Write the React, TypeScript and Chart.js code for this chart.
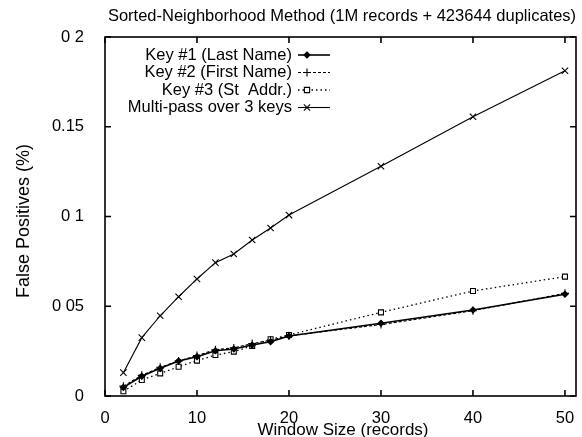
import React, { useEffect, useRef } from "react";
import { Chart, registerables } from "chart.js";

Chart.register(...registerables);

const windowSizes = [2, 4, 6, 8, 10, 12, 14, 16, 18, 20, 30, 40, 50];
const key1LastName = [0.0048, 0.011, 0.0154, 0.0195, 0.0219, 0.0252, 0.0262, 0.0284, 0.0302, 0.0334, 0.0405, 0.0479, 0.0567];
const key2FirstName = [0.0055, 0.0115, 0.016, 0.0195, 0.0225, 0.0258, 0.0268, 0.0292, 0.031, 0.0335, 0.0398, 0.0475, 0.0572];
const key3StAddr = [0.0026, 0.0089, 0.0126, 0.0163, 0.0197, 0.0228, 0.0247, 0.0279, 0.0316, 0.034, 0.0466, 0.0585, 0.0665];
const multiPass = [0.013, 0.0325, 0.0447, 0.0553, 0.0652, 0.0743, 0.0791, 0.0869, 0.0936, 0.1008, 0.128, 0.1556, 0.1812];

const xTickValues = [0, 10, 20, 30, 40, 50];
const xTickLabels = ["0", "10", "20", "30", "40", "50"];
const yTickValues = [0, 0.05, 0.1, 0.15, 0.2];
const yTickLabels = ["0", "0 05", "0 1", "0.15", "0 2"];

const seriesNames = ["Key #1 (Last Name)", "Key #2 (First Name)", "Key #3 (St  Addr.)", "Multi-pass over 3 keys"];

const titleText = "Sorted-Neighborhood Method (1M records + 423644 duplicates)";
const xTitle = "Window Size (records)";
const yTitle = "False Positives (%)";

const FONT = '"Liberation Sans", Arial, sans-serif';
const FS = 16.5;

function drawMarker(ctx: CanvasRenderingContext2D, style: string, x: number, y: number, r: number, fill: string) {
  ctx.save();
  ctx.setLineDash([]);
  ctx.strokeStyle = "#000";
  ctx.lineWidth = 1.1;
  ctx.fillStyle = fill;
  ctx.beginPath();
  if (style === "rectRot") {
    ctx.moveTo(x, y - r);
    ctx.lineTo(x + r, y);
    ctx.lineTo(x, y + r);
    ctx.lineTo(x - r, y);
    ctx.closePath();
    ctx.fill();
    ctx.stroke();
  } else if (style === "cross") {
    ctx.moveTo(x - r, y);
    ctx.lineTo(x + r, y);
    ctx.moveTo(x, y - r);
    ctx.lineTo(x, y + r);
    ctx.stroke();
  } else if (style === "rect") {
    const s = r * 0.75;
    ctx.rect(x - s, y - s, 2 * s, 2 * s);
    ctx.fill();
    ctx.stroke();
  } else {
    const s = r * 0.7;
    ctx.moveTo(x - s, y - s);
    ctx.lineTo(x + s, y + s);
    ctx.moveTo(x + s, y - s);
    ctx.lineTo(x - s, y + s);
    ctx.stroke();
  }
  ctx.restore();
}

export default function App() {
  const ref = useRef<HTMLCanvasElement>(null);

  useEffect(() => {
    document.body.style.margin = "0";
    const canvas = ref.current;
    if (!canvas) return;

    const styles = [
      { dash: [], width: 1.6, pointStyle: "rectRot", radius: 3, fill: "#000" },
      { dash: [3, 2], width: 1.1, pointStyle: "cross", radius: 4, fill: "#000" },
      { dash: [1.5, 3], width: 1.3, pointStyle: "rect", radius: 3.5, fill: "#fff" },
      { dash: [], width: 1.1, pointStyle: "crossRot", radius: 4.5, fill: "#000" },
    ];
    const values = [key1LastName, key2FirstName, key3StAddr, multiPass];

    const datasets = values.map((vals, i) => ({
      label: seriesNames[i],
      data: windowSizes.map((x, j) => ({ x, y: vals[j] })),
      borderColor: "#000",
      backgroundColor: styles[i].fill,
      borderWidth: styles[i].width,
      borderDash: styles[i].dash,
      pointStyle: styles[i].pointStyle as any,
      pointRadius: styles[i].radius,
      pointBorderWidth: 1.1,
      pointBorderColor: "#000",
      pointBackgroundColor: styles[i].fill,
      tension: 0,
    }));

    const framePlugin = {
      id: "frame",
      afterDraw(chart: any) {
        const { ctx, chartArea } = chart;
        const { left, right, top, bottom } = chartArea;
        const xs = chart.scales.x;
        const ys = chart.scales.y;
        ctx.save();
        ctx.strokeStyle = "#000";
        ctx.lineWidth = 1.6;
        ctx.setLineDash([]);
        ctx.strokeRect(left, top, right - left, bottom - top);
        const tl = 6;
        ctx.beginPath();
        xTickValues.forEach((v) => {
          const px = xs.getPixelForValue(v);
          ctx.moveTo(px, bottom);
          ctx.lineTo(px, bottom - tl);
          ctx.moveTo(px, top);
          ctx.lineTo(px, top + tl);
        });
        yTickValues.forEach((v) => {
          const py = ys.getPixelForValue(v);
          ctx.moveTo(left, py);
          ctx.lineTo(left + tl, py);
          ctx.moveTo(right, py);
          ctx.lineTo(right - tl, py);
        });
        ctx.stroke();

        // texts
        ctx.fillStyle = "#000";
        ctx.font = `${FS}px ${FONT}`;
        ctx.textAlign = "center";
        ctx.textBaseline = "middle";
        ctx.fillText(titleText, 342, 16);
        ctx.font = `17px ${FONT}`;
        ctx.fillText(xTitle, 343, 430);
        ctx.save();
        ctx.font = `18px ${FONT}`;
        ctx.translate(24, 221);
        ctx.rotate(-Math.PI / 2);
        ctx.fillText(yTitle, 0, 0);
        ctx.restore();

        // legend
        const textRight = 292;
        const sx0 = 298;
        const sx1 = 330;
        const rowY = [55, 72.5, 90, 107.5];
        ctx.font = `${FS}px ${FONT}`;
        ctx.textAlign = "right";
        ctx.textBaseline = "middle";
        seriesNames.forEach((name, i) => {
          const y = rowY[i];
          ctx.fillStyle = "#000";
          ctx.fillText(name, textRight, y);
          ctx.beginPath();
          ctx.lineWidth = styles[i].width;
          ctx.setLineDash(styles[i].dash);
          ctx.moveTo(sx0, y);
          ctx.lineTo(sx1, y);
          ctx.stroke();
          ctx.setLineDash([]);
          drawMarker(ctx, styles[i].pointStyle, 307, y, styles[i].radius, styles[i].fill);
        });
        ctx.restore();
      },
    };

    const chart = new Chart(canvas, {
      type: "line",
      data: { datasets },
      options: {
        animation: false,
        responsive: false,
        layout: { padding: { top: 37, right: 6, left: 0, bottom: 0 } },
        plugins: { legend: { display: false }, title: { display: false }, tooltip: { enabled: false } },
        scales: {
          x: {
            type: "linear",
            min: 0,
            max: 51.2,
            grid: { display: false },
            border: { display: false },
            afterBuildTicks: (scale: any) => {
              scale.ticks = xTickValues.map((v) => ({ value: v }));
            },
            afterFit: (scale: any) => {
              scale.height = 41;
            },
            ticks: {
              padding: 5,
              color: "#000",
              font: { family: FONT, size: FS },
              maxRotation: 0,
              callback: (v: any) => {
                const i = xTickValues.indexOf(Number(v));
                return i >= 0 ? xTickLabels[i] : "";
              },
            },
          },
          y: {
            type: "linear",
            min: 0,
            max: 0.2,
            grid: { display: false },
            border: { display: false },
            afterBuildTicks: (scale: any) => {
              scale.ticks = yTickValues.map((v) => ({ value: v }));
            },
            afterFit: (scale: any) => {
              scale.width = 105;
            },
            ticks: {
              padding: 13,
              color: "#000",
              font: { family: FONT, size: FS },
              callback: (v: any) => {
                const i = yTickValues.findIndex((t) => Math.abs(t - Number(v)) < 1e-9);
                return i >= 0 ? yTickLabels[i] : "";
              },
            },
          },
        },
      },
      plugins: [framePlugin],
    });

    return () => chart.destroy();
  }, []);

  return <canvas ref={ref} width={582} height={437} style={{ display: "block", width: 582, height: 437 }} />;
}
